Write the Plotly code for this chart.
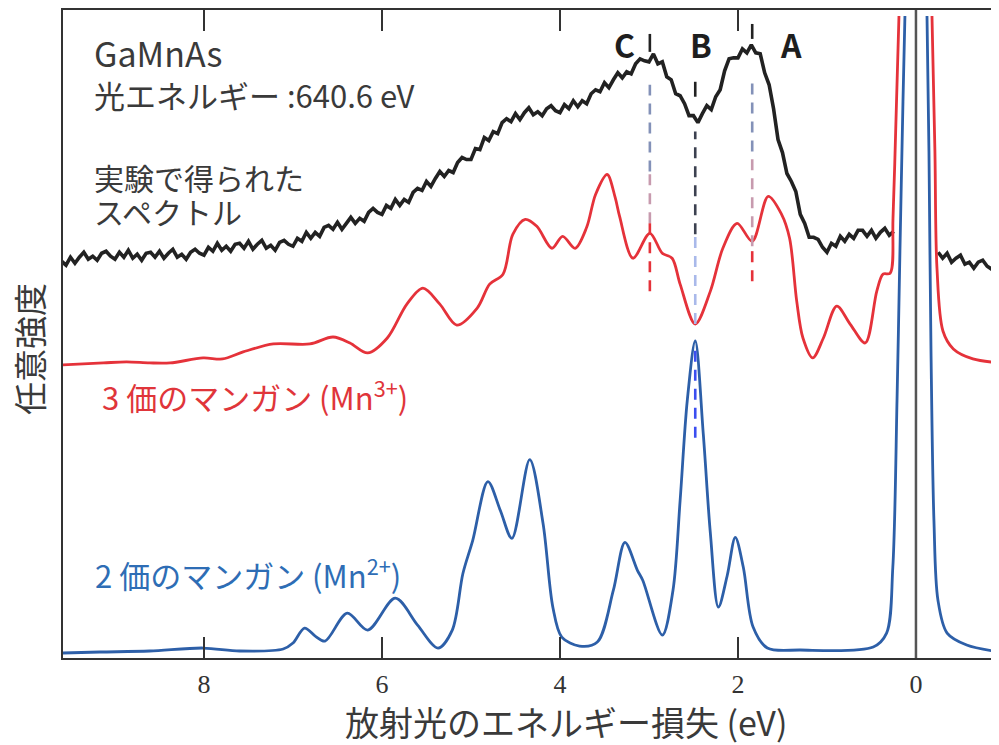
import plotly.graph_objects as go

# ---------------- data ----------------
# energy loss (eV) and intensity (arbitrary units)
exp_energy = [
    9.60, 9.55, 9.50, 9.45, 9.40, 9.35, 9.30, 9.25, 9.20, 9.15,
    9.10, 9.05, 9.00, 8.95, 8.90, 8.85, 8.80, 8.75, 8.70, 8.65,
    8.60, 8.55, 8.50, 8.45, 8.40, 8.35, 8.30, 8.25, 8.20, 8.15,
    8.10, 8.05, 8.00, 7.95, 7.90, 7.85, 7.80, 7.75, 7.70, 7.65,
    7.60, 7.55, 7.50, 7.45, 7.40, 7.35, 7.30, 7.25, 7.20, 7.15,
    7.10, 7.05, 7.00, 6.95, 6.90, 6.85, 6.80, 6.75, 6.70, 6.65,
    6.60, 6.55, 6.50, 6.45, 6.40, 6.35, 6.30, 6.25, 6.20, 6.15,
    6.10, 6.05, 6.00, 5.95, 5.90, 5.85, 5.80, 5.75, 5.70, 5.65,
    5.60, 5.55, 5.50, 5.45, 5.40, 5.35, 5.30, 5.25, 5.20, 5.15,
    5.10, 5.05, 5.00, 4.95, 4.90, 4.85, 4.80, 4.75, 4.70, 4.65,
    4.60, 4.55, 4.50, 4.45, 4.40, 4.35, 4.30, 4.25, 4.20, 4.15,
    4.10, 4.05, 4.00, 3.95, 3.90, 3.85, 3.80, 3.75, 3.70, 3.65,
    3.60, 3.55, 3.50, 3.45, 3.40, 3.35, 3.30, 3.25, 3.20, 3.15,
    3.10, 3.05, 3.00, 2.95, 2.90, 2.85, 2.80, 2.75, 2.70, 2.65,
    2.60, 2.55, 2.50, 2.45, 2.40, 2.35, 2.30, 2.25, 2.20, 2.15,
    2.10, 2.05, 2.00, 1.95, 1.90, 1.85, 1.80, 1.75, 1.70, 1.65,
    1.60, 1.55, 1.50, 1.45, 1.40, 1.35, 1.30, 1.25, 1.20, 1.15,
    1.10, 1.05, 1.00, 0.95, 0.90, 0.85, 0.80, 0.75, 0.70, 0.65,
    0.60, 0.55, 0.50, 0.45, 0.40, 0.35, 0.30, 0.25,
    None,
    -0.25, -0.30, -0.35, -0.40, -0.45, -0.50, -0.55, -0.60, -0.65, -0.70,
    -0.75, -0.80, -0.85, -0.90, -0.95,
]
exp_intensity = [
    398, 394, 402, 396, 402, 407, 400, 403, 399, 406,
    408, 403, 400, 407, 402, 409, 401, 405, 399, 406,
    407, 402, 408, 401, 406, 410, 402, 405, 400, 407,
    410, 406, 404, 412, 408, 416, 409, 413, 408, 415,
    416, 411, 418, 410, 415, 419, 411, 414, 409, 417,
    419, 415, 413, 421, 418, 427, 421, 427, 423, 432,
    434, 430, 437, 430, 436, 442, 436, 441, 438, 447,
    451, 447, 445, 454, 451, 460, 454, 460, 457, 467,
    471, 469, 478, 473, 481, 488, 483, 489, 487, 497,
    502, 500, 500, 511, 510, 522, 519, 528, 526, 537,
    541, 538, 546, 540, 547, 552, 545, 548, 544, 551,
    554, 549, 547, 555, 551, 559, 553, 559, 556, 566,
    570, 568, 577, 572, 580, 587, 582, 588, 586, 596,
    601, 599, 598, 606, 596, 598, 583, 580, 566, 564,
    556, 544, 544, 537, 546, 554, 550, 563, 570, 589,
    601, 602, 602, 611, 607, 615, 607, 606, 587, 575,
    551, 520, 507, 486, 478, 468, 445, 436, 422, 422,
    420, 412, 407, 416, 413, 423, 418, 425, 421, 429,
    429, 423, 429, 421, 427, 431, 424, 428,
    None,
    407, 401, 406, 397, 401, 404, 395, 397, 391, 397,
    399, 393, 390, 397, 392,
]

mn3_energy = [
    9.60, 9.13, 8.87, 8.61, 8.38, 8.01, 7.79, 7.56, 7.22, 6.81,
    6.55, 6.36, 6.16, 5.94, 5.72, 5.54, 5.35, 5.16, 4.93, 4.79,
    4.64, 4.53, 4.39, 4.26, 4.09, 3.97, 3.83, 3.70, 3.60, 3.47,
    3.38, 3.33, 3.18, 2.99, 2.85, 2.74, 2.65, 2.48, 2.31, 2.17,
    2.01, 1.84, 1.66, 1.51, 1.42, 1.34, 1.27, 1.16, 1.04, 0.89,
    0.74, 0.57, 0.44, 0.37, 0.29, 0.258, 0.225, 0.191,
    None,
    -0.18, -0.213, -0.236, -0.303, -0.42, -0.64, -0.95,
]
mn3_intensity = [
    294, 296, 297, 296, 296, 301, 300, 307, 315, 315,
    322, 316, 306, 321, 355, 371, 355, 334, 351, 375,
    385, 425, 440, 433, 411, 423, 411, 432, 465, 485,
    462, 443, 401, 426, 406, 401, 375, 335, 368, 411,
    436, 418, 463, 445, 421, 358, 321, 301, 321, 353,
    335, 316, 368, 385, 386, 441, 538, 644,
    None,
    644, 508, 391, 328, 310, 300, 296,
]

mn2_energy = [
    9.60, 9.17, 8.61, 8.01, 7.60, 7.11, 7.00, 6.87, 6.75, 6.64,
    6.39, 6.16, 5.85, 5.60, 5.37, 5.21, 5.09, 4.98, 4.81, 4.67,
    4.54, 4.34, 4.19, 4.08, 3.98, 3.78, 3.58, 3.40, 3.27, 3.13,
    3.07, 2.85, 2.73, 2.65, 2.57, 2.48, 2.39, 2.31, 2.22, 2.12,
    2.03, 1.94, 1.83, 1.67, 1.30, 0.48, 0.33, 0.26, 0.213, 0.18,
    0.146, 0.124,
    None,
    -0.124, -0.146, -0.169, -0.202, -0.247, -0.35, -0.57, -0.95,
]
mn2_intensity = [
    5, 6, 7, 10, 7, 9, 15, 30, 22, 17,
    45, 28, 60, 33, 10, 28, 85, 118, 177, 148,
    120, 199, 135, 51, 21, 12, 16, 68, 116, 88,
    78, 23, 68, 158, 258, 318, 225, 125, 51, 83,
    121, 91, 31, 10, 8, 11, 25, 91, 258, 408,
    558, 644,
    None,
    644, 508, 308, 138, 58, 25, 13, 6,
]

tick_vals = [8, 6, 4, 2, 0]
tick_text = ["8", "6", "4", "2", "0"]

# features C, B, A in the measured spectrum
feature_names = ["C", "B", "A"]
feature_energy = [2.99, 2.48, 1.84]
feature_label_energy = [3.27, 2.42, 1.40]
feature_label_intensity = [616, 616, 616]

# guide segments: (feature index, from, to, colour key, style)
guide_segments = [
    (0, 608, 626, "k", "solid"),
    (0, 488, 575, "slate", "dash"),
    (0, 436, 488, "pink", "dash"),
    (0, 368, 436, "red", "dash"),
    (1, 563, 578, "k", "solid"),
    (1, 425, 528, "dark", "dash"),
    (1, 335, 425, "light", "dash"),
    (1, 221, 313, "blue", "dash"),
    (2, 621, 636, "k", "solid"),
    (2, 508, 581, "slate", "dash"),
    (2, 413, 508, "pink", "dash"),
    (2, 378, 413, "red", "dash"),
]

# ---------------- styling ----------------
RED = "#e5323a"
BLUE = "#2d5fa8"
BLACK = "#222222"
CJK = "Noto Sans CJK JP"
guide_colors = {"k": "#222222", "slate": "#8391b8", "pink": "#c79aae",
                "red": "#e5323a", "dark": "#3c4150", "light": "#a9b9ea",
                "blue": "#3b4ef0"}

fig = go.Figure()

fig.add_trace(go.Scatter(x=exp_energy, y=exp_intensity, mode="lines",
                         line=dict(color=BLACK, width=3.6), connectgaps=False,
                         hoverinfo="skip"))
fig.add_trace(go.Scatter(x=mn3_energy, y=mn3_intensity, mode="lines",
                         line=dict(color=RED, width=2.8, shape="spline", smoothing=0.9),
                         connectgaps=False, hoverinfo="skip"))
fig.add_trace(go.Scatter(x=mn2_energy, y=mn2_intensity, mode="lines",
                         line=dict(color=BLUE, width=2.8, shape="spline", smoothing=0.9),
                         connectgaps=False, hoverinfo="skip"))

for idx, y0, y1, ckey, style in guide_segments:
    e = feature_energy[idx]
    fig.add_trace(go.Scatter(
        x=[e, e], y=[y0, y1], mode="lines", hoverinfo="skip",
        line=dict(color=guide_colors[ckey], width=2.6,
                  dash="solid" if style == "solid" else "11px,8px")))

fig.add_shape(type="line", xref="x", yref="paper", x0=0, x1=0, y0=0, y1=1,
              line=dict(color="#555555", width=2.5))

annotations = []
for name, e, yv in zip(feature_names, feature_label_energy, feature_label_intensity):
    annotations.append(dict(x=e, y=yv, xref="x", yref="y", text=f"<b>{name}</b>",
                            showarrow=False, xanchor="center", yanchor="middle",
                            font=dict(family=CJK, size=32, color="#1e1e1e")))

def px2paper(px, py):
    return (px - 63) / 936, (658 - py) / 650

text_items = [
    ("GaMnAs", 92, 51, 34, "#3a3a3a"),
    ("光エネルギー :640.6 eV", 92, 93, 31, "#3a3a3a"),
    ("実験で得られた", 92, 176, 30, "#3a3a3a"),
    ("スペクトル", 92, 210, 30, "#3a3a3a"),
    ("3 価のマンガン (Mn<sup>3+</sup>)", 100, 395, 31, "#e0353a"),
    ("2 価のマンガン (Mn<sup>2+</sup>)", 93, 573, 31, "#2e6db5"),
]
for txt, px, py, size, col in text_items:
    xp, yp = px2paper(px, py)
    annotations.append(dict(x=xp, y=yp, xref="paper", yref="paper", text=txt,
                            showarrow=False, xanchor="left", yanchor="middle",
                            font=dict(family=CJK, size=size, color=col)))

xp, yp = px2paper(566, 722)
annotations.append(dict(x=xp, y=yp, xref="paper", yref="paper",
                        text="放射光のエネルギー損失 (eV)", showarrow=False,
                        xanchor="center", yanchor="middle",
                        font=dict(family=CJK, size=34, color="#3a3a3a")))
xp, yp = px2paper(29, 348)
annotations.append(dict(x=xp, y=yp, xref="paper", yref="paper",
                        text="任意強度", showarrow=False, textangle=-90,
                        xanchor="center", yanchor="middle",
                        font=dict(family=CJK, size=33, color="#3a3a3a")))

# page body has an 8 px margin: figure sized so the page does not overflow
fig.update_layout(
    width=991, height=737,
    margin=dict(l=55, r=0, t=0, b=87),
    plot_bgcolor="white", paper_bgcolor="white",
    showlegend=False,
    annotations=annotations,
    xaxis=dict(range=[9.584, -0.933], tickvals=tick_vals, ticktext=tick_text,
               ticks="inside", ticklen=21, tickwidth=2, tickcolor="#333333",
               showline=True, linecolor="#333333", linewidth=2, mirror="ticks",
               showgrid=False, zeroline=False, ticklabelstandoff=2,
               tickfont=dict(family="Liberation Serif", size=26, color="#333333")),
    yaxis=dict(range=[0, 650], showticklabels=False, ticks="", showgrid=False,
               zeroline=False, showline=True, linecolor="#333333", linewidth=2,
               mirror=False),
)

fig.write_html("out.html")
